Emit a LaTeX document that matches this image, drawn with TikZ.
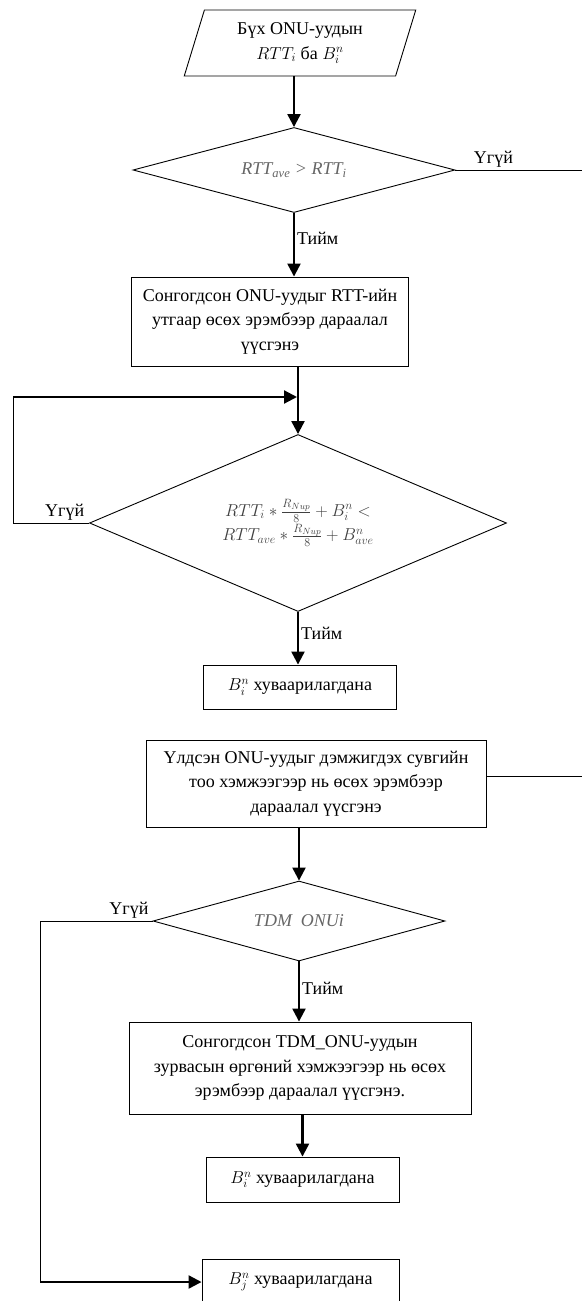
\documentclass[tikz,border=0pt]{standalone}
\usepackage{fontspec}
\setmainfont{Liberation Serif}
\usetikzlibrary{shapes.geometric,arrows.meta}
\tikzset{
  box/.style={draw,line width=0.9pt,align=center,inner sep=2pt},
  decision/.style={diamond,draw,line width=0.9pt,inner sep=0pt,align=center,text=black!60},
  io/.style={trapezium,trapezium left angle=73,trapezium right angle=107,draw,line width=0.9pt,align=center,inner sep=2pt},
  flow/.style={line width=2.2pt,-{Triangle[length=13pt,width=13pt]}},
  branch/.style={line width=0.9pt},
  lbl/.style={inner sep=2pt}
}
\begin{document}
\begin{tikzpicture}[x=1pt,y=-1pt,font=\fontsize{18}{24.5}\selectfont]
\useasboundingbox (0,0) rectangle (582,1301);
% blocks
\node[io,minimum width=204pt,minimum height=66pt] (start) at (300,43) {Бүх ONU-уудын\\$RTT_i$ ба $B_i^n$};
\node[decision,minimum width=322pt,minimum height=85pt,aspect=3.8] (cmp) at (294,170) {\textit{RTT\textsubscript{ave} > RTT\textsubscript{i}}};
\node[box,minimum width=277pt,minimum height=89pt] (sort) at (270,321.5) {Сонгогдсон ONU-уудыг RTT-ийн\\утгаар өсөх эрэмбээр дараалал\\үүсгэнэ};
\coordinate (merge) at (297,397);
\coordinate (back) at (13,397);
\node[decision,minimum width=417pt,minimum height=177pt,aspect=2.36,text=black!75] (test) at (298,523) {$RTT_i * \frac{R_{Nup}}{8} + B_i^n <$\\$RTT_{ave} * \frac{R_{Nup}}{8} + B_{ave}^n$};
\node[box,minimum width=193pt,minimum height=44pt] (alloc) at (300,687) {$B_i^n$ хуваарилагдана};
\node[box,minimum width=340pt,minimum height=87pt] (rest) at (316,783.5) {Үлдсэн ONU-уудыг дэмжигдэх сувгийн\\тоо хэмжээгээр нь өсөх эрэмбээр\\дараалал үүсгэнэ};
\coordinate (exit) at (582,776);
\node[decision,minimum width=292pt,minimum height=80pt,aspect=3.65] (tdm) at (299,921) {\textit{TDM\enspace ONUi}};
\node[box,minimum width=342pt,minimum height=92pt] (band) at (300,1068) {Сонгогдсон TDM\_ONU-уудын\\зурвасын өргөний хэмжээгээр нь өсөх\\эрэмбээр дараалал үүсгэнэ.};
\node[box,minimum width=193pt,minimum height=45pt] (alloci) at (302.5,1179.5) {$B_i^n$ хуваарилагдана};
\node[box,minimum width=197pt,minimum height=46pt] (allocj) at (300.5,1282) {$B_j^n$ хуваарилагдана};
\coordinate (down) at (40,1282);
% connectors
\draw[flow] (start.south -| cmp.north) -- (cmp.north);
\draw[branch] (cmp.east) -- node[lbl,above,pos=0.3]{Үгүй} (cmp.east -| exit);
\draw[flow] (cmp.south) -- node[lbl,right,pos=0.4]{Тийм} (cmp.south |- sort.north);
\draw[flow] (test.north |- sort.south) -- (test.north);
\draw[branch] (test.west) -- node[lbl,above,pos=0.32]{Үгүй} (test.west -| back) -- (back);
\draw[flow] (back) -- (merge);
\draw[flow] (test.south) -- node[lbl,right,pos=0.4]{Тийм} (test.south |- alloc.north);
\draw[branch] (exit -| rest.east) -- (exit);
\draw[flow] (rest.south -| tdm.north) -- (tdm.north);
\draw[branch] (tdm.west) -- node[lbl,above,pos=0.21]{Үгүй} (tdm.west -| down) -- (down);
\draw[flow] (down) -- (allocj.west);
\draw[flow] (tdm.south) -- node[lbl,right,pos=0.45]{Тийм} (tdm.south |- band.north);
\draw[flow] (alloci.north |- band.south) -- (alloci.north);
\end{tikzpicture}
\end{document}
